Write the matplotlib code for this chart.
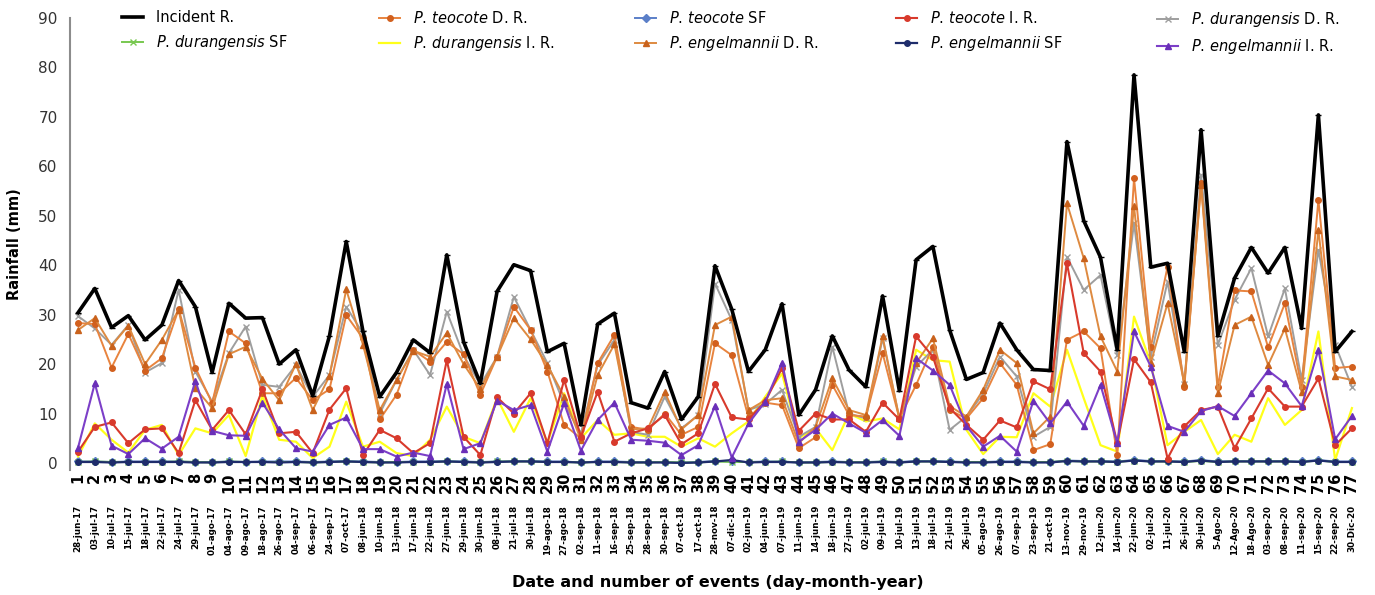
import matplotlib
matplotlib.use("Agg")
from matplotlib import pyplot as plt
from matplotlib import transforms

events = list(range(1, 78))
dates = [
    "28-jun-17", "03-jul-17", "10-jul-17", "15-jul-17", "18-jul-17", "22-jul-17", "24-jul-17",
    "29-jul-17", "01-ago-17", "04-ago-17", "09-ago-17", "18-ago-17", "26-ago-17", "04-sep-17",
    "06-sep-17", "24-sep-17", "07-oct-17", "08-jun-18", "10-jun-18", "13-jun-18", "17-jun-18",
    "22-jun-18", "27-jun-18", "29-jun-18", "30-jun-18", "08-jul-18", "21-jul-18", "30-jul-18",
    "19-ago-18", "27-ago-18", "02-sep-18", "11-sep-18", "16-sep-18", "25-sep-18", "28-sep-18",
    "30-sep-18", "07-oct-18", "17-oct-18", "28-nov-18", "07-dic-18", "02-jun-19", "04-jun-19",
    "07-jun-19", "11-jun-19", "14-jun-19", "18-jun-19", "27-jun-19", "02-jul-19", "09-jul-19",
    "10-jul-19", "13-jul-19", "18-jul-19", "21-jul-19", "26-jul-19", "05-ago-19", "26-ago-19",
    "07-sep-19", "23-sep-19", "21-oct-19", "13-nov-19", "29-nov-19", "12-jun-20", "14-jun-20",
    "22-jun-20", "02-jul-20", "11-jul-20", "26-jul-20", "30-jul-20", "5-Ago-20", "12-Ago-20",
    "18-Ago-20", "03-sep-20", "08-sep-20", "11-sep-20", "15-sep-20", "22-sep-20", "30-Dic-20",
]

incident = [30.4, 35.3, 27.4, 29.8, 24.9, 27.9, 36.9, 31.6, 18.3, 32.3, 29.3, 29.4, 20.0, 22.9,
            13.6, 25.7, 44.8, 26.6, 13.4, 18.3, 24.9, 22.3, 42.1, 24.5, 16.1, 34.7, 40.1, 38.9,
            22.5, 24.2, 7.7, 28.1, 30.3, 12.2, 11.1, 18.5, 8.8, 13.4, 39.9, 31.1, 18.5, 22.9,
            32.2, 9.7, 14.8, 25.7, 18.8, 15.4, 33.8, 14.6, 41.1, 43.8, 26.9, 16.9, 18.3, 28.3,
            22.9, 18.9, 18.7, 65.0, 49.0, 41.6, 22.9, 78.5, 39.6, 40.4, 22.5, 67.4, 25.7, 37.4,
            43.6, 38.4, 43.6, 27.2, 70.4, 22.5, 26.6]

teocote_dr = [28.3, 28.1, 19.3, 26.1, 18.7, 21.2, 31.1, 19.3, 12.1, 26.6, 24.2, 14.1, 14.1, 17.2,
              12.7, 14.9, 29.9, 25.2, 8.8, 13.8, 22.9, 20.5, 24.5, 22.0, 13.8, 21.5, 31.6, 26.9,
              18.5, 7.7, 5.0, 20.2, 25.9, 7.3, 6.7, 10.0, 5.7, 7.3, 24.2, 21.8, 9.2, 12.2,
              11.7, 3.0, 5.2, 15.8, 9.7, 9.4, 22.2, 9.0, 15.8, 23.5, 10.7, 9.0, 13.1, 20.2,
              15.8, 2.6, 3.8, 24.9, 26.6, 23.2, 1.6, 57.6, 23.4, 39.7, 15.4, 56.6, 15.4, 34.9,
              34.7, 23.4, 32.3, 15.4, 53.2, 19.2, 19.5]

teocote_sf = [0.3, 0.3, 0.2, 0.3, 0.3, 0.3, 0.3, 0.2, 0.2, 0.3, 0.2, 0.3, 0.3, 0.3,
              0.2, 0.3, 0.4, 0.3, 0.2, 0.2, 0.3, 0.3, 0.4, 0.3, 0.2, 0.3, 0.4, 0.4,
              0.3, 0.3, 0.1, 0.3, 0.3, 0.2, 0.2, 0.2, 0.1, 0.2, 0.4, 0.3, 0.2, 0.3,
              0.3, 0.1, 0.2, 0.3, 0.2, 0.2, 0.3, 0.2, 0.4, 0.4, 0.3, 0.2, 0.2, 0.3,
              0.3, 0.2, 0.2, 0.5, 0.4, 0.4, 0.3, 0.6, 0.4, 0.4, 0.3, 0.6, 0.3, 0.4,
              0.4, 0.4, 0.4, 0.3, 0.6, 0.3, 0.3]

teocote_ir = [2.3, 7.3, 8.2, 4.0, 6.8, 7.0, 2.0, 12.7, 6.7, 10.7, 5.8, 14.9, 6.0, 6.3,
              2.0, 10.8, 15.1, 1.6, 6.7, 5.0, 2.0, 4.0, 20.8, 5.3, 1.6, 13.3, 10.0, 14.1,
              4.0, 16.8, 5.3, 14.4, 4.3, 6.0, 7.0, 9.7, 3.8, 6.0, 16.0, 9.2, 8.8, 12.4,
              19.2, 6.5, 10.0, 8.8, 8.8, 6.3, 12.2, 8.8, 25.6, 21.5, 11.1, 7.7, 4.7, 8.6,
              7.2, 16.5, 14.9, 40.4, 22.2, 18.5, 4.0, 21.0, 16.3, 0.9, 7.4, 10.7, 11.4, 3.0,
              9.0, 15.1, 11.4, 11.4, 17.1, 3.6, 7.0]

durangensis_dr = [29.7, 27.2, 23.9, 27.9, 18.3, 20.2, 35.0, 18.5, 12.4, 22.2, 27.6, 15.8, 15.4, 19.8,
                  13.4, 17.8, 31.6, 26.2, 10.0, 16.8, 22.9, 17.8, 30.6, 21.8, 15.8, 21.5, 33.6, 26.9,
                  20.2, 12.0, 6.0, 19.8, 24.9, 6.3, 5.7, 13.4, 7.0, 9.7, 36.3, 28.9, 10.7, 11.9,
                  14.8, 5.3, 7.3, 23.5, 10.0, 9.0, 25.2, 9.0, 19.5, 22.9, 6.7, 9.4, 14.0, 21.5,
                  17.5, 5.3, 7.3, 41.7, 35.0, 38.0, 21.8, 48.5, 21.5, 36.7, 16.0, 58.3, 23.9, 33.0,
                  39.4, 25.6, 35.3, 16.8, 43.1, 23.9, 15.4]

durangensis_sf = [0.2, 0.3, 0.2, 0.2, 0.2, 0.2, 0.3, 0.2, 0.1, 0.3, 0.2, 0.2, 0.2, 0.2,
                  0.1, 0.2, 0.3, 0.2, 0.1, 0.2, 0.2, 0.2, 0.3, 0.2, 0.1, 0.3, 0.3, 0.3,
                  0.2, 0.2, 0.1, 0.2, 0.2, 0.1, 0.1, 0.2, 0.1, 0.1, 0.3, 0.2, 0.2, 0.2,
                  0.3, 0.1, 0.1, 0.2, 0.2, 0.1, 0.3, 0.1, 0.3, 0.3, 0.2, 0.2, 0.2, 0.2,
                  0.2, 0.2, 0.2, 0.4, 0.3, 0.3, 0.2, 0.5, 0.3, 0.3, 0.2, 0.4, 0.2, 0.3,
                  0.3, 0.3, 0.3, 0.2, 0.5, 0.2, 0.2]

durangensis_ir = [1.3, 8.0, 4.7, 2.1, 6.7, 7.7, 1.6, 7.0, 6.0, 9.7, 1.4, 13.6, 4.7, 4.3,
                  1.0, 3.3, 12.4, 3.3, 4.3, 2.0, 1.4, 4.7, 11.4, 5.3, 4.0, 13.1, 6.3, 13.1,
                  4.0, 14.1, 5.0, 8.7, 5.7, 6.0, 5.3, 5.3, 3.3, 5.0, 3.3, 6.0, 8.4, 13.4,
                  18.1, 5.0, 7.0, 2.6, 10.0, 8.4, 9.0, 6.8, 22.9, 20.8, 20.5, 6.7, 1.8, 5.3,
                  5.2, 14.1, 11.4, 22.9, 13.1, 3.6, 2.3, 29.6, 20.2, 3.6, 6.3, 8.7, 1.8, 5.7,
                  4.3, 13.1, 7.7, 10.7, 26.6, 0.6, 11.1]

engelmannii_dr = [26.9, 29.3, 23.7, 27.8, 20.0, 24.9, 31.0, 15.1, 11.1, 22.0, 23.5, 17.0, 12.7, 20.0,
                  10.7, 17.6, 35.1, 23.9, 10.7, 16.8, 22.7, 21.5, 26.3, 20.0, 15.0, 21.5, 29.3, 25.0,
                  19.8, 13.4, 4.7, 17.8, 24.0, 6.8, 7.0, 14.4, 6.8, 9.7, 27.9, 29.6, 10.7, 12.7,
                  13.1, 4.0, 7.3, 17.1, 10.7, 9.7, 25.6, 9.0, 20.2, 25.2, 11.5, 9.4, 14.8, 22.9,
                  20.2, 6.0, 9.4, 52.5, 41.4, 25.6, 18.5, 51.9, 20.2, 32.3, 16.1, 56.2, 14.2, 27.9,
                  29.6, 19.8, 27.2, 14.4, 47.1, 17.5, 16.8]

engelmannii_sf = [0.2, 0.2, 0.1, 0.2, 0.2, 0.2, 0.2, 0.1, 0.1, 0.2, 0.2, 0.2, 0.1, 0.2,
                  0.1, 0.2, 0.3, 0.2, 0.1, 0.1, 0.2, 0.2, 0.3, 0.2, 0.1, 0.2, 0.3, 0.3,
                  0.2, 0.2, 0.1, 0.2, 0.2, 0.1, 0.1, 0.1, 0.0, 0.1, 0.3, 0.6, 0.1, 0.2,
                  0.2, 0.1, 0.1, 0.2, 0.1, 0.1, 0.2, 0.1, 0.3, 0.3, 0.2, 0.1, 0.1, 0.2,
                  0.2, 0.1, 0.1, 0.4, 0.3, 0.3, 0.2, 0.5, 0.3, 0.3, 0.2, 0.5, 0.2, 0.3,
                  0.3, 0.3, 0.3, 0.2, 0.5, 0.2, 0.2]

engelmannii_ir = [3.1, 16.1, 3.5, 1.8, 5.0, 2.9, 5.3, 16.6, 6.5, 5.6, 5.5, 12.2, 6.8, 3.0,
                  2.3, 7.7, 9.2, 2.8, 2.8, 1.3, 2.1, 1.4, 16.0, 2.8, 4.0, 12.6, 10.7, 11.7,
                  2.3, 12.1, 2.5, 8.7, 12.2, 4.7, 4.5, 4.1, 1.6, 3.6, 11.5, 1.1, 8.0, 12.4,
                  20.3, 4.3, 6.7, 10.0, 8.0, 6.1, 8.7, 5.5, 21.2, 18.7, 15.8, 7.5, 3.3, 5.5,
                  2.3, 12.6, 8.0, 12.4, 7.5, 15.8, 4.0, 26.6, 19.5, 7.5, 6.3, 10.5, 11.5, 9.5,
                  14.1, 18.7, 16.1, 11.5, 22.9, 4.8, 9.5]

# label, values, line colour, marker, marker colour, line width, zorder
series = [
    ("Incident R.", incident, "#000000", "_", "#000000", 2.6, 10),
    (r"$\it{P.\,teocote}$ D. R.", teocote_dr, "#E8843F", "o", "#D2601E", 1.4, 6),
    (r"$\it{P.\,teocote}$ SF", teocote_sf, "#5B7FC8", "D", "#5B7FC8", 1.4, 3),
    (r"$\it{P.\,teocote}$ I. R.", teocote_ir, "#D83A2C", "o", "#D83A2C", 1.5, 7),
    (r"$\it{P.\,durangensis}$ D. R.", durangensis_dr, "#9E9E9E", "x", "#9E9E9E", 1.4, 5),
    (r"$\it{P.\,durangensis}$ SF", durangensis_sf, "#78C850", "x", "#78C850", 1.4, 3),
    (r"$\it{P.\,durangensis}$ I. R.", durangensis_ir, "#FFFF1A", None, "#FFFF1A", 1.6, 4),
    (r"$\it{P.\,engelmannii}$ D. R.", engelmannii_dr, "#DE8A40", "^", "#C9621C", 1.4, 6),
    (r"$\it{P.\,engelmannii}$ SF", engelmannii_sf, "#1E2C6B", "o", "#1E2C6B", 1.6, 4),
    (r"$\it{P.\,engelmannii}$ I. R.", engelmannii_ir, "#7C3FC8", "^", "#6A2FB8", 1.5, 8),
]

fig = plt.figure(figsize=(13.75, 5.95), dpi=100)
ax = fig.add_axes([70 / 1375, 1 - 470 / 595, 1295 / 1375, 452 / 595])

handles = []
for label, vals, color, marker, mcolor, lw, z in series:
    h, = ax.plot(events, vals, color=color, lw=lw, marker=marker, markersize=4,
                 markerfacecolor=mcolor, markeredgecolor=mcolor, markeredgewidth=1.0,
                 label=label, zorder=z)
    handles.append(h)

ax.set_xlim(0.52, 77.78)
ax.set_ylim(-1.42, 90)
ax.set_yticks(range(0, 91, 10))
ax.set_xticks(events)
ax.set_xticklabels([str(e) for e in events], rotation=90, fontsize=10.5,
                   fontweight="bold")
ax.tick_params(axis="x", length=0, pad=2)
ax.tick_params(axis="y", length=0, pad=9, labelsize=11, labelcolor="#333333")

for side in ["top", "right", "bottom"]:
    ax.spines[side].set_visible(False)
ax.spines["left"].set_color("#8C8C8C")
ax.spines["left"].set_linewidth(1.5)

# date under each event number
trans = transforms.blended_transform_factory(ax.transData, ax.transAxes)
for e, d in zip(events, dates):
    ax.text(e, -0.077, d, transform=trans, rotation=90, ha="center", va="top",
            fontsize=6.3, fontweight="bold")

ax.set_xlabel("Date and number of events (day-month-year)", fontsize=11.5,
              fontweight="bold")
ax.xaxis.set_label_coords(0.5, -0.232)
ax.set_ylabel("Rainfall (mm)", fontsize=10.5, fontweight="bold")
ax.yaxis.set_label_coords(-0.037, 0.5)

# legend laid out as 5 columns of 2 rows
col_x = [122, 379, 635, 896, 1157]
for c in range(5):
    pair = [handles[c], handles[c + 5]]
    fig.legend(handles=pair, loc="upper left",
               bbox_to_anchor=(col_x[c] / 1375, 1 - 10 / 595),
               frameon=False, fontsize=10.5, handlelength=1.45,
               handletextpad=0.9, labelspacing=0.55, borderpad=0,
               borderaxespad=0)

fig.savefig("out.png", dpi=100)
